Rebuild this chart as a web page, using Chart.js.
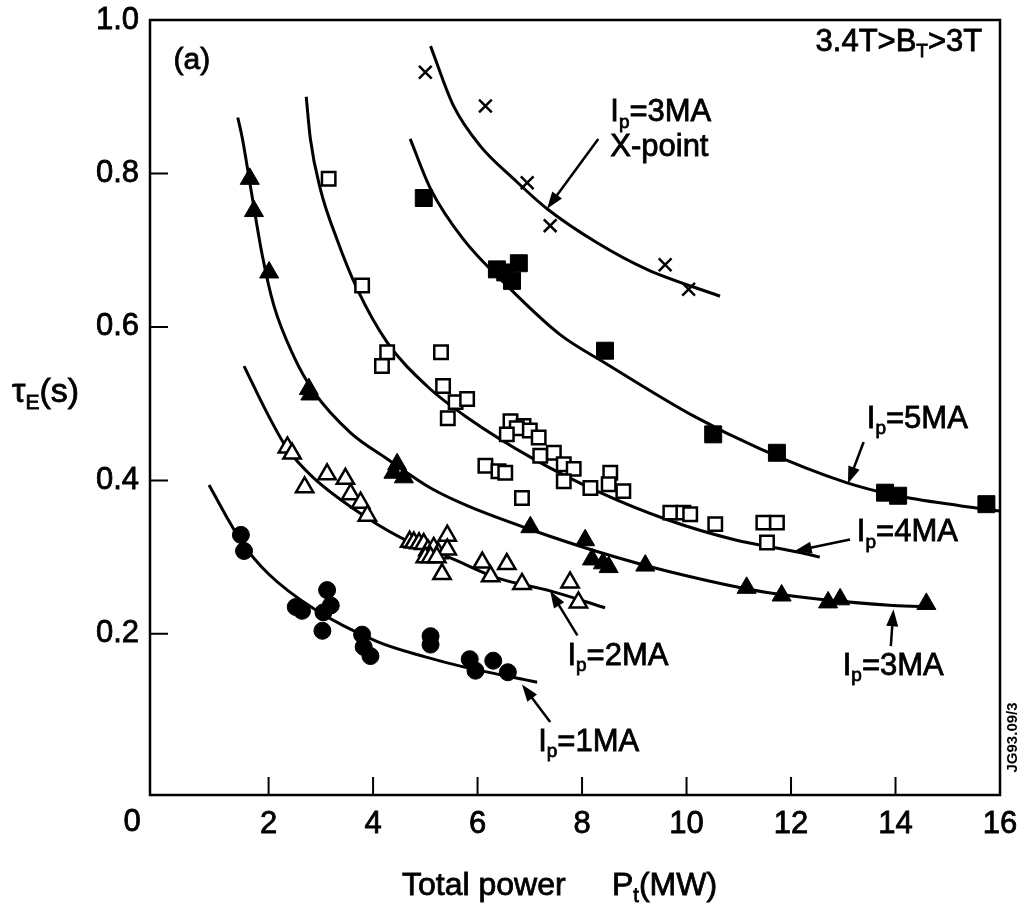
<!DOCTYPE html>
<html>
<head>
<meta charset="utf-8">
<script src="https://cdn.jsdelivr.net/npm/chart.js@4.4.0/dist/chart.umd.min.js"></script>
<style>
  html, body { margin: 0; padding: 0; background: #fff; }
</style>
</head>
<body>
<canvas id="tauChart" width="1024" height="918"></canvas>
<script>
// tick labels
var xTicks = [2, 4, 6, 8, 10, 12, 14, 16];
var yTicks = [0.2, 0.4, 0.6, 0.8, 1.0];

// measured points [P_t (MW), tau_E (s)]
var ip1MA = [[1.47,0.329],[1.53,0.308],[2.52,0.235],[2.64,0.230],[3.12,0.257],[3.19,0.237],[3.05,0.228],[3.03,0.204],
  [3.79,0.199],[3.82,0.183],[3.95,0.171],[5.10,0.197],[5.10,0.186],[5.85,0.167],[5.96,0.152],[6.30,0.165],[6.58,0.150]];
var ip2MA = [[2.36,0.443],[2.45,0.435],[2.69,0.391],[3.12,0.408],[3.47,0.402],[3.57,0.382],[3.76,0.371],[3.89,0.354],
  [4.70,0.320],[4.78,0.319],[4.88,0.318],[4.97,0.317],[5.05,0.309],[5.16,0.312],[5.25,0.305],[5.42,0.328],[5.42,0.310],
  [5.00,0.300],[5.10,0.300],[5.22,0.300],[5.32,0.278],[6.09,0.293],[6.25,0.275],[6.56,0.291],[6.85,0.265],[7.77,0.267],[7.93,0.241]];
var ip3MA = [[1.64,0.793],[1.72,0.751],[2.01,0.671],[2.77,0.519],[2.80,0.512],[4.39,0.410],[4.46,0.421],[4.59,0.404],
  [7.01,0.339],[8.06,0.322],[8.19,0.297],[8.40,0.292],[8.51,0.287],[9.21,0.289],[11.15,0.260],[11.82,0.250],
  [12.71,0.241],[12.94,0.245],[14.59,0.239]];
var ip4MA = [[3.15,0.793],[3.79,0.654],[4.27,0.567],[4.17,0.549],[5.30,0.567],[5.34,0.523],[5.58,0.502],[5.80,0.506],
  [5.43,0.481],[6.63,0.477],[6.88,0.471],[6.75,0.468],[7.00,0.465],[6.56,0.460],[7.17,0.456],[6.15,0.419],[6.40,0.412],
  [6.53,0.410],[6.85,0.377],[7.20,0.432],[7.46,0.436],[7.65,0.421],[7.84,0.415],[7.65,0.399],[8.16,0.390],[8.54,0.410],
  [8.51,0.395],[8.79,0.386],[9.69,0.358],[9.94,0.358],[10.07,0.356],[10.55,0.343],[11.47,0.345],[11.73,0.345],[11.54,0.319]];
var ip5MA = [[4.97,0.768],[6.37,0.675],[6.53,0.671],[6.66,0.660],[6.79,0.683],[8.44,0.569],[10.51,0.460],[11.73,0.436],
  [13.80,0.384],[14.05,0.380],[15.74,0.369]];
var xPoint3MA = [[5.00,0.932],[6.15,0.888],[6.95,0.788],[7.39,0.732],[9.59,0.681],[10.04,0.649]];

// fitted curves as drawn
var curve1MA = [[0.86,0.394],[1.2,0.352],[1.5,0.318],[2.0,0.278],[2.86,0.233],[4.08,0.190],[5.0,0.170],[5.73,0.157],[7.14,0.137]];
var curve2MA = [[1.53,0.549],[1.97,0.488],[2.36,0.441],[2.85,0.404],[3.89,0.351],[4.72,0.319],[5.48,0.299],[6.37,0.273],[7.39,0.256],[8.44,0.234]];
var curve3MA = [[1.41,0.873],[1.50,0.845],[1.66,0.780],[1.88,0.693],[2.10,0.628],[2.48,0.562],[2.87,0.515],[3.57,0.462],
  [4.27,0.428],[5.10,0.390],[5.80,0.367],[7.01,0.336],[8.35,0.306],[9.62,0.282],[11.54,0.254],[13.95,0.237],[14.72,0.235]];
var curve4MA = [[2.72,0.900],[2.80,0.845],[2.99,0.780],[3.31,0.714],[3.70,0.649],[4.27,0.580],[5.03,0.523],[5.80,0.482],
  [7.07,0.428],[8.35,0.384],[9.62,0.349],[10.90,0.323],[12.17,0.306],[12.55,0.300]];
var curve5MA = [[4.71,0.845],[5.10,0.780],[5.73,0.714],[6.56,0.654],[7.58,0.590],[8.44,0.553],[10.13,0.484],[11.41,0.441],
  [13.06,0.397],[13.96,0.381],[15.23,0.367],[16.0,0.360]];
var curveXPoint = [[5.10,0.966],[5.54,0.888],[6.05,0.836],[6.69,0.793],[7.33,0.754],[8.28,0.710],[9.24,0.675],[10.64,0.640]];

var FONT = "'Liberation Sans', Arial, sans-serif";

function pts(arr) {
  return arr.map(function (p) { return { x: p[0], y: p[1] }; });
}

function curve(arr) {
  return {
    data: pts(arr), showLine: true, borderColor: "#000", borderWidth: 3,
    pointRadius: 0, cubicInterpolationMode: "monotone", order: 2
  };
}

function marks(arr, style, radius, filled) {
  return {
    data: pts(arr), showLine: false, pointStyle: style, pointRadius: radius,
    pointBackgroundColor: filled ? "#000" : "#fff", pointBorderColor: "#000",
    pointBorderWidth: filled ? 1 : 2.5, order: 1
  };
}

// text labels: [text, subscript?]
var notes = [
  { x: 0.18, y: 0.947, size: 30, parts: [["(a)"]] },
  { x: 15.66, y: 0.971, size: 31, parts: [["3.4T>B"], ["T", 1], [">3T"]], align: "right" },
  { x: 8.54, y: 0.879, size: 31, parts: [["I"], ["p", 1], ["=3MA"]] },
  { x: 8.54, y: 0.834, size: 31, parts: [["X-point"]] },
  { x: 13.45, y: 0.480, size: 31, parts: [["I"], ["p", 1], ["=5MA"]] },
  { x: 13.26, y: 0.332, size: 31, parts: [["I"], ["p", 1], ["=4MA"]] },
  { x: 12.99, y: 0.158, size: 31, parts: [["I"], ["p", 1], ["=3MA"]] },
  { x: 7.72, y: 0.171, size: 31, parts: [["I"], ["p", 1], ["=2MA"]] },
  { x: 7.16, y: 0.059, size: 31, parts: [["I"], ["p", 1], ["=1MA"]] }
];
var arrows = [
  { from: [8.31, 0.845], to: [7.33, 0.754] },
  { from: [13.39, 0.450], to: [13.09, 0.396] },
  { from: [13.13, 0.323], to: [12.07, 0.308] },
  { from: [13.91, 0.184], to: [13.96, 0.232] },
  { from: [7.91, 0.198], to: [7.39, 0.256] },
  { from: [7.39, 0.085], to: [6.85, 0.134] }
];

function drawRich(ctx, x, y, parts, size, align) {
  var subSize = Math.round(size * 0.62);
  var total = 0;
  parts.forEach(function (p) {
    ctx.font = (p[1] ? subSize : size) + "px " + FONT;
    total += ctx.measureText(p[0]).width;
  });
  var cx = align === "right" ? x - total : (align === "center" ? x - total / 2 : x);
  ctx.textAlign = "left";
  ctx.textBaseline = "middle";
  ctx.lineWidth = 0.8;
  parts.forEach(function (p) {
    ctx.font = (p[1] ? subSize : size) + "px " + FONT;
    var ty = p[1] ? y + size * 0.32 : y;
    ctx.fillText(p[0], cx, ty);
    ctx.strokeText(p[0], cx, ty);
    cx += ctx.measureText(p[0]).width;
  });
}

var decor = {
  id: "decor",
  afterDraw: function (chart) {
    var ctx = chart.ctx, a = chart.chartArea;
    var xs = chart.scales.x, ys = chart.scales.y;
    ctx.save();
    ctx.strokeStyle = "#000";
    ctx.fillStyle = "#000";
    // frame
    ctx.lineWidth = 2.5;
    ctx.strokeRect(a.left, a.top, a.right - a.left, a.bottom - a.top);
    // inward ticks
    ctx.lineWidth = 2;
    ctx.beginPath();
    yTicks.forEach(function (v) {
      var py = ys.getPixelForValue(v);
      ctx.moveTo(a.left, py); ctx.lineTo(a.left + 18, py);
    });
    xTicks.forEach(function (v) {
      var px = xs.getPixelForValue(v);
      ctx.moveTo(px, a.bottom); ctx.lineTo(px, a.bottom - 18);
    });
    ctx.stroke();
    // origin label
    drawRich(ctx, a.left - 18, a.bottom + 27, [["0"]], 31, "center");
    // annotations
    notes.forEach(function (n) {
      drawRich(ctx, xs.getPixelForValue(n.x), ys.getPixelForValue(n.y), n.parts, n.size, n.align);
    });
    // arrows
    arrows.forEach(function (ar) {
      var x1 = xs.getPixelForValue(ar.from[0]), y1 = ys.getPixelForValue(ar.from[1]);
      var x2 = xs.getPixelForValue(ar.to[0]), y2 = ys.getPixelForValue(ar.to[1]);
      var ang = Math.atan2(y2 - y1, x2 - x1);
      ctx.lineWidth = 2.5;
      ctx.beginPath();
      ctx.moveTo(x1, y1);
      ctx.lineTo(x2 - Math.cos(ang) * 10, y2 - Math.sin(ang) * 10);
      ctx.stroke();
      ctx.beginPath();
      ctx.moveTo(x2, y2);
      ctx.lineTo(x2 - Math.cos(ang) * 17 + Math.sin(ang) * 6, y2 - Math.sin(ang) * 17 - Math.cos(ang) * 6);
      ctx.lineTo(x2 - Math.cos(ang) * 17 - Math.sin(ang) * 6, y2 - Math.sin(ang) * 17 + Math.cos(ang) * 6);
      ctx.closePath();
      ctx.fill();
    });
    // axis titles
    drawRich(ctx, 12, ys.getPixelForValue(0.515), [["\u03C4"], ["E", 1], ["(s)"]], 34, "left");
    drawRich(ctx, 402, 886, [["Total power"]], 32, "left");
    drawRich(ctx, 612, 886, [["P"], ["t", 1], ["(MW)"]], 32, "left");
    // figure code
    ctx.translate(a.right + 13, ys.getPixelForValue(0.065));
    ctx.rotate(-Math.PI / 2);
    ctx.font = "bold 15px " + FONT;
    ctx.textAlign = "center";
    ctx.textBaseline = "middle";
    ctx.fillText("JG93.09/3", 0, 0);
    ctx.restore();
  }
};

var ctx = document.getElementById("tauChart").getContext("2d");
var myChart = new Chart(ctx, {
  type: "scatter",
  data: {
    datasets: [
      curve(curve1MA), curve(curve2MA), curve(curve3MA), curve(curve4MA), curve(curve5MA), curve(curveXPoint),
      marks(ip1MA, "circle", 8.5, true),
      marks(ip2MA, "triangle", 10, false),
      marks(ip3MA, "triangle", 11, true),
      marks(ip4MA, "rect", 9.5, false),
      marks(ip5MA, "rect", 12, true),
      marks(xPoint3MA, "crossRot", 9, false)
    ]
  },
  options: {
    responsive: false,
    animation: false,
    layout: { padding: { top: 20, right: 24, left: 0, bottom: 0 } },
    plugins: { legend: { display: false }, tooltip: { enabled: false } },
    scales: {
      x: {
        type: "linear", min: -0.27, max: 16,
        grid: { display: false, drawTicks: false }, border: { display: false },
        afterBuildTicks: function (s) { s.ticks = xTicks.map(function (v) { return { value: v }; }); },
        afterFit: function (s) { s.height = 123; s.paddingLeft = 0; s.paddingRight = 0; },
        ticks: { padding: 11, color: "#000", textStrokeColor: "#000", textStrokeWidth: 0.8,
          font: { family: FONT, size: 31 }, maxRotation: 0, autoSkip: false,
          callback: function (v) { return String(v); } }
      },
      y: {
        type: "linear", min: -0.01, max: 1.0,
        grid: { display: false, drawTicks: false }, border: { display: false },
        afterBuildTicks: function (s) { s.ticks = yTicks.map(function (v) { return { value: v }; }); },
        afterFit: function (s) { s.width = 150; s.paddingTop = 0; s.paddingBottom = 0; },
        ticks: { padding: 11, color: "#000", textStrokeColor: "#000", textStrokeWidth: 0.8,
          font: { family: FONT, size: 31 }, autoSkip: false,
          callback: function (v) { return v.toFixed(1); } }
      }
    }
  },
  plugins: [decor]
});
</script>
</body>
</html>
